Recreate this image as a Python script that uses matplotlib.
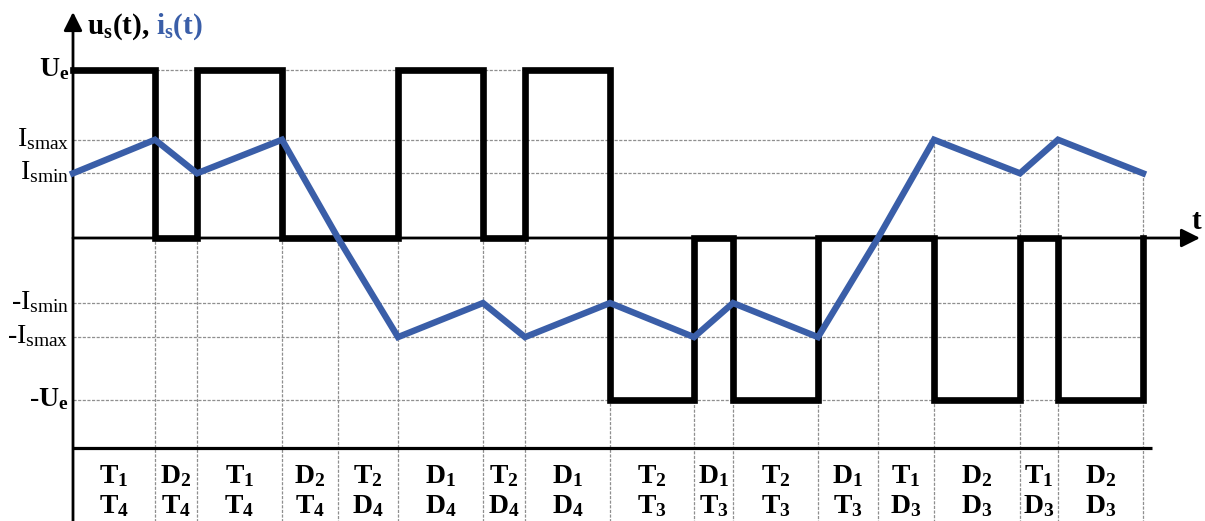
import matplotlib
matplotlib.use("Agg")
import matplotlib.pyplot as plt

plt.rcParams['mathtext.fontset'] = 'custom'
plt.rcParams['mathtext.rm'] = 'Liberation Serif'
plt.rcParams['mathtext.it'] = 'Liberation Serif:italic'
plt.rcParams['mathtext.bf'] = 'Liberation Serif:bold'
plt.rcParams['font.family'] = ['Liberation Serif', 'DejaVu Serif']

# ---- data (arbitrary time units, voltage normalised to Ue) ----
t_bounds = [0, 82, 124, 209, 265, 325, 410, 452, 537, 621, 660, 745, 805, 861, 947, 985, 1070]
Ue = 1.0
Ue_neg = -0.965
Ismax = 0.585
Ismin = 0.385
nIsmin = -0.387
nIsmax = -0.59
u_seg = [Ue, 0, Ue, 0, 0, Ue, 0, Ue, Ue_neg, 0, Ue_neg, 0, 0, Ue_neg, 0, Ue_neg]
i_pts = [Ismin, Ismax, Ismin, Ismax, 0, nIsmax, nIsmin, nIsmax, nIsmin, nIsmax,
         nIsmin, nIsmax, 0, Ismax, Ismin, Ismax, Ismin]
row1 = ['T_1', 'D_2', 'T_1', 'D_2', 'T_2', 'D_1', 'T_2', 'D_1',
        'T_2', 'D_1', 'T_2', 'D_1', 'T_1', 'D_2', 'T_1', 'D_2']
row2 = ['T_4', 'T_4', 'T_4', 'T_4', 'D_4', 'D_4', 'D_4', 'D_4',
        'T_3', 'T_3', 'T_3', 'T_3', 'D_3', 'D_3', 'D_3', 'D_3']
level_vals = [Ue, Ismax, Ismin, nIsmin, nIsmax, Ue_neg]
level_labels = [r'$\mathbf{U_e}$', r'$\mathrm{I_{smax}}$', r'$\mathrm{I_{smin}}$',
                r'-$\mathrm{I_{smin}}$', r'-$\mathrm{I_{smax}}$', r'-$\mathbf{U_e}$']
level_ends = [537, 985, 1070, 1070, 1070, 1070]

BLUE = '#3a5ea8'
GRID = '#8f8f8f'

fig = plt.figure(figsize=(12.05, 5.21), dpi=100)
ax = fig.add_axes([0, 0, 1, 1])
ax.axis('off')
ymin, ymax = -283 / 168, 238 / 168
ax.set_xlim(-73, 1132)
ax.set_ylim(ymin, ymax)

# horizontal grid lines
for lv, te in zip(level_vals, level_ends):
    ax.plot([0, te], [lv, lv], color=GRID, lw=0.9, ls=(0, (2.5, 1.2)), zorder=1)

# vertical grid lines: from highest waveform value down to bottom
for k in range(1, len(t_bounds)):
    left = u_seg[k - 1]
    right = u_seg[k] if k < len(u_seg) else 0
    top = max(left, right, i_pts[k])
    ax.plot([t_bounds[k], t_bounds[k]], [top, ymin], color=GRID, lw=0.9,
            ls=(0, (2.5, 1.2)), zorder=1)

# table top line
table_y = -1.25
ax.plot([0, 1079], [table_y, table_y], color='black', lw=2.3, zorder=3,
        solid_capstyle='butt')

# axes with arrows
ax.annotate('', xy=(0, 1.345), xytext=(0, ymin),
            arrowprops=dict(arrowstyle='-|>', color='black', lw=2,
                            mutation_scale=28, shrinkA=0, shrinkB=0), zorder=4)
ax.annotate('', xy=(1127, 0), xytext=(0, 0),
            arrowprops=dict(arrowstyle='-|>', color='black', lw=2,
                            mutation_scale=28, shrinkA=0, shrinkB=0), zorder=4)
ax.text(1124, 0.02, r'$\mathbf{t}$', fontsize=21, ha='center', va='bottom')

# voltage (step)
u_plot = u_seg + [0]
ax.plot(t_bounds, u_plot, drawstyle='steps-post', color='black', lw=4.8,
        solid_joinstyle='miter', zorder=5)
# current
ax.plot(t_bounds, i_pts, color=BLUE, lw=4.6, solid_joinstyle='miter', zorder=6)

# level labels
for lv, lab in zip(level_vals, level_labels):
    ax.annotate(lab, xy=(0, lv), xytext=(-4, -6), textcoords='offset pixels',
                ha='right', va='baseline', fontsize=20)

# title
t1 = ax.text(14, 1.215, r'$\mathbf{u_s(t),}$', fontsize=21, ha='left', va='baseline')
ax.annotate(r'$\ \mathbf{i_s(t)}$', xy=(1, 0), xycoords=t1, ha='left', va='bottom',
            fontsize=21, color=BLUE)

# table labels
for k in range(len(row1)):
    xc = (t_bounds[k] + t_bounds[k + 1]) / 2
    ax.text(xc, -1.46, r'$\mathbf{%s}$' % row1[k], fontsize=20, ha='center', va='baseline')
    ax.text(xc, -1.64, r'$\mathbf{%s}$' % row2[k], fontsize=20, ha='center', va='baseline')

fig.savefig('out.png', dpi=100)
